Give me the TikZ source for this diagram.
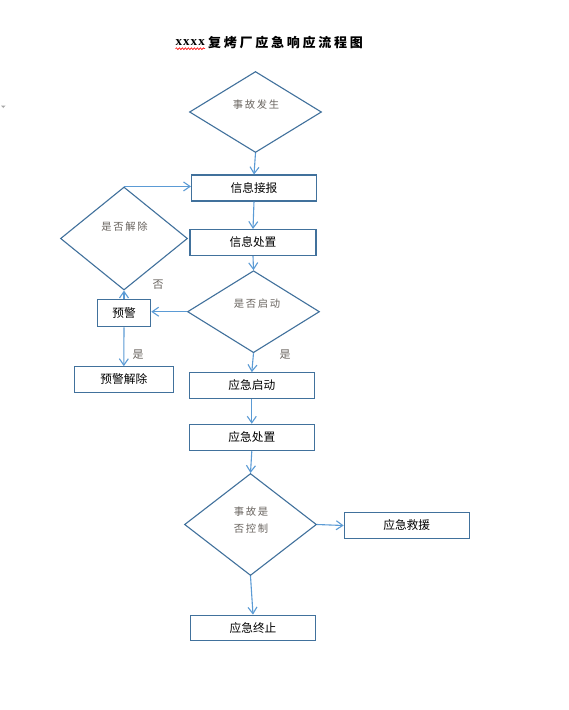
\documentclass[tikz,border=0pt]{standalone}
\usepackage{fontspec}
\usetikzlibrary{shapes.geometric,arrows.meta,decorations.pathmorphing}
\newfontfamily\cjk{Noto Sans CJK SC}
\newfontfamily\cjkspaced[LetterSpace=16]{Noto Sans CJK SC}
\newfontfamily\titlecjk[LetterSpace=21]{Noto Sans CJK SC}
\newfontfamily\titlelat[LetterSpace=8]{Liberation Serif}
\definecolor{boxline}{HTML}{41719C}
\definecolor{arrowc}{HTML}{5B9BD5}
\definecolor{dtext}{HTML}{6A6560}
\begin{document}
\begin{tikzpicture}[x=1pt,y=-1pt,
  box/.style={draw=boxline,line width=1.1pt,minimum width=125pt,minimum height=26pt,inner sep=0pt,font=\cjk\fontsize{11.7}{12}\selectfont},
  dec/.style={diamond,draw=boxline,line width=1.1pt,inner sep=0pt},
  dtxt/.style={font=\cjkspaced\fontsize{10.3}{17.3}\selectfont,text=dtext,inner sep=0pt,align=center},
  arr/.style={draw=arrowc,line width=1.1pt,-{Straight Barb[length=6.5pt,width=9pt]}},
  lbl/.style={font=\cjk\fontsize{11}{12}\selectfont,text=dtext,inner sep=0pt}]
\useasboundingbox (0,0) rectangle (569,710);
\fill[white] (0,0) rectangle (569,710);
% title
\node[anchor=east,inner sep=0pt,font=\titlelat\bfseries\fontsize{13}{14}\selectfont] (tx) at (205,42.5) {xxxx};
\node[anchor=west,inner sep=0pt,font=\titlecjk\bfseries\fontsize{13}{14}\selectfont] (tc) at (208,42.5) {复烤厂应急响应流程图};
\coordinate (sq1) at ([yshift=-3pt]tx.south west);
\coordinate (sq2) at ([yshift=-3pt]tx.south east);
\draw[red,line width=0.6pt,decorate,decoration={snake,amplitude=0.9pt,segment length=3pt}] (sq1) -- (sq2);
% small mark
\fill[gray!70] (1,105.5) -- (5.5,105.5) -- (3.25,108) -- cycle;
% diamonds
\node[dec,minimum width=132pt,minimum height=81pt] (d1) at (255.5,112) {};
\node[dec,minimum width=127pt,minimum height=103pt] (d2) at (124,238.5) {};
\node[dec,minimum width=132pt,minimum height=82pt] (d3) at (253.5,311.7) {};
\node[dec,minimum width=132pt,minimum height=102pt] (d4) at (250.5,524.5) {};
\node[dtxt] (t1) at (256,105) {事故发生};
\node[dtxt] (t2) at (124.5,226.7) {是否解除};
\node[dtxt] (t3) at (257,303.5) {是否启动};
\node[dtxt] (t4) at (251,520) {事故是\\否控制};
% boxes
\node[box] (b1) at (254,188) {信息接报};
\node[box,minimum height=26pt,minimum width=126pt] (b2) at (253,242.5) {信息处置};
\node[box,minimum width=53.4pt,minimum height=27.4pt] (b3) at (124,313) {预警};
\node[box,minimum width=99pt,minimum height=25.6pt] (b4) at (123.8,379.5) {预警解除};
\node[box,minimum height=25.6pt] (b5) at (251.8,385.5) {应急启动};
\node[box,minimum height=26.4pt] (b6) at (251.8,437.5) {应急处置};
\node[box,minimum height=25.6pt] (b7) at (406.7,525.5) {应急救援};
\node[box,minimum height=25.7pt] (b8) at (253,628) {应急终止};
% connectors
\draw[arr] (d1.south) -- (b1.north);
\draw[arr] (d2.north) -- (d2.north -| b1.west);
\draw[arr] (b1.south) -- (b2.north);
\draw[arr] (b2.south) -- (d3.north);
\draw[arr] (d3.west) -- (d3.west -| b3.east);
\draw[arr] (b3.north) -- (d2.south);
\draw[arr] (b3.south) -- (b4.north);
\draw[arr] (d3.south) -- (b5.north);
\draw[arr] (b5.south) -- (b6.north);
\draw[arr] (b6.south) -- (d4.north);
\draw[arr] (d4.east) -- (b7.west);
\draw[arr] (d4.south) -- (b8.north);
% labels
\node[lbl] (no) at (158,285) {否};
\node[lbl] (yes1) at (138,355) {是};
\node[lbl] (yes2) at (285,355) {是};
\end{tikzpicture}
\end{document}
